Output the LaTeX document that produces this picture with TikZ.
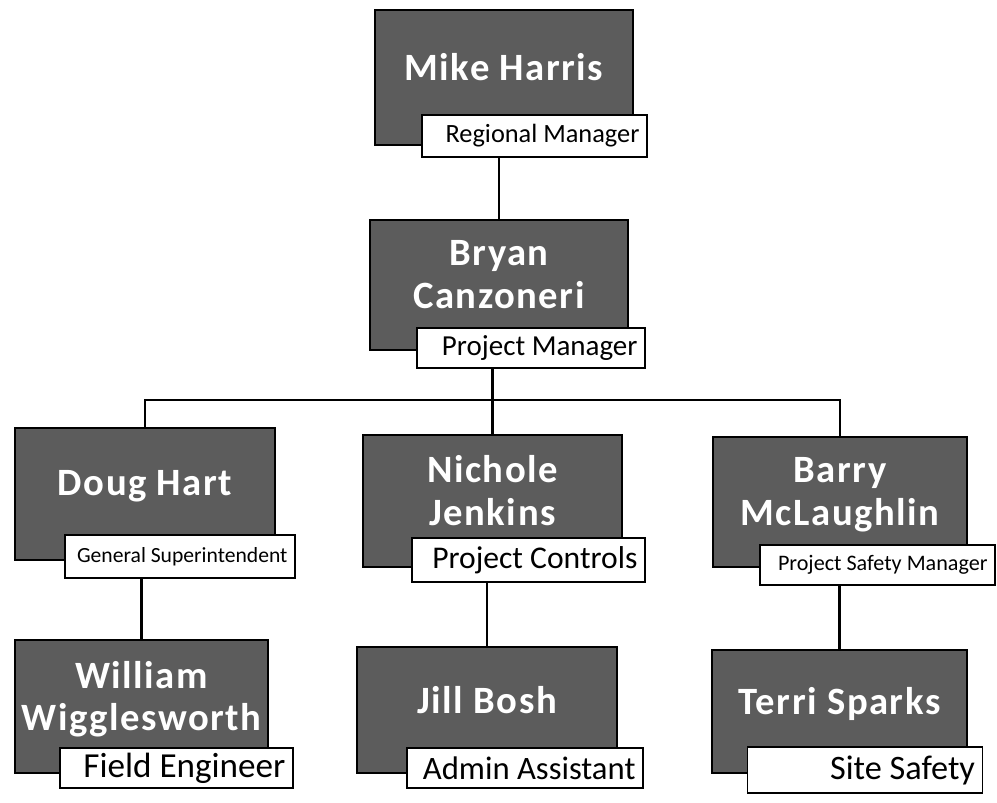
\documentclass[tikz,border=0pt]{standalone}
\usepackage{fontspec}
\setmainfont{Carlito}

\tikzset{
  person/.style={draw=black, line width=1pt, fill=black!64, text=white, font=\bfseries\fontsize{22}{24}\selectfont\addfontfeature{LetterSpace=4}, align=center, inner sep=0pt, text depth=12pt},
  role/.style={draw=black, line width=0.8pt, fill=white, inner ysep=0pt, inner xsep=0.15cm, align=flush right, text=black},
  link/.style={line width=1.2pt}
}

\begin{document}
\begin{tikzpicture}[x=0.02cm,y=-0.02cm]
\useasboundingbox (0,0) rectangle (997,803);
\node[person, minimum width=5.16cm, minimum height=2.7cm] (mike) at (504,77.5) {Mike Harris};
\node[role, text width=4.2cm, minimum height=0.84cm, font=\fontsize{15}{16}\selectfont] (mikerole) at (534.5,136) {Regional Manager};
\node[person, minimum width=5.16cm, minimum height=2.6cm] (bryan) at (499,285) {Bryan\\Canzoneri};
\node[role, text width=4.26cm, minimum height=0.8cm, font=\fontsize{16.5}{18}\selectfont] (bryanrole) at (531,348) {Project Manager};
\coordinate (bus) at (0,400);
% second row
\node[person, minimum width=5.2cm, minimum height=2.64cm] (doug) at (145,494) {Doug Hart};
\node[role, text width=4.3cm, minimum height=0.86cm, font=\fontsize{12.3}{14}\selectfont] (dougrole) at (180,556.5) {General Superintendent};
\node[person, minimum width=5.18cm, minimum height=2.64cm] (nichole) at (492.5,501) {Nichole\\Jenkins};
\node[role, text width=4.36cm, minimum height=0.88cm, font=\fontsize{18}{20}\selectfont] (nicholerole) at (528.5,560) {Project Controls};
\node[person, minimum width=5.08cm, minimum height=2.6cm] (barry) at (840,502) {Barry\\McLaughlin};
\node[role, text width=4.4cm, minimum height=0.8cm, font=\fontsize{12.6}{14}\selectfont] (barryrole) at (877.5,565) {Project Safety Manager};
% third row
\node[person, minimum width=5.06cm, minimum height=2.66cm] (william) at (141.5,706.5) {William\\Wigglesworth};
\node[role, text width=4.36cm, minimum height=0.8cm, font=\fontsize{20}{22}\selectfont] (williamrole) at (176.5,768) {Field Engineer};
\node[person, minimum width=5.2cm, minimum height=2.52cm] (jill) at (487,710) {Jill Bosh};
\node[role, text width=4.42cm, minimum height=0.8cm, font=\fontsize{18.6}{20}\selectfont] (jillrole) at (525,768) {Admin Assistant};
\node[person, minimum width=5.1cm, minimum height=2.46cm] (terri) at (839.5,711.5) {Terri Sparks};
\node[role, text width=4.4cm, minimum height=0.92cm, font=\fontsize{19.5}{21}\selectfont] (terrirole) at (865,770) {Site Safety};
% lines
\draw[link] (mikerole.south -| bryan.north) -- (bryan.north);
\draw[link] (bryanrole.south -| nichole.north) -- (nichole.north);
\draw[link] (doug.north) -- (doug.north |- bus) -- (barry.north |- bus) -- (barry.north);
\draw[link] (dougrole.south -| william.north) -- (william.north);
\draw[link] (nicholerole.south -| jill.north) -- (jill.north);
\draw[link] (barryrole.south -| terri.north) -- (terri.north);
\end{tikzpicture}
\end{document}
